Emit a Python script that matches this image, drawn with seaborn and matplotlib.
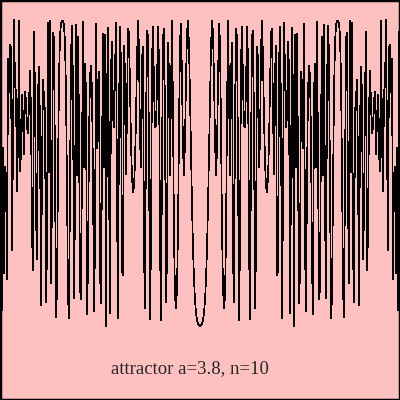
import numpy as np
import matplotlib
matplotlib.use("Agg")
import matplotlib.pyplot as plt
import seaborn as sns

# curve of the 10th iterate for a=3.8, one sample per pixel column (x = i/400),
# values in thousandths of the y range
y_left = [
    0, 921, 225, 631, 316, 583, 562, 301, 854, 769,
    888, 881, 374, 645, 950, 787, 769, 522, 651, 949,
    573, 618, 764, 701, 615, 771, 749, 683, 667, 739,
    822, 721, 411, 325, 920, 765, 461, 351, 765, 834,
    684, 237, 583, 800, 755, 720, 244, 369, 942, 570,
    948, 291, 504, 918, 902, 574, 207, 276, 574, 804,
    909, 942, 948, 948, 937, 892, 768, 531, 258, 205,
    525, 864, 935, 786, 255, 477, 937, 563, 908, 687,
    276, 252, 591, 946, 583, 841, 769, 215, 333, 657,
    808, 836, 773, 555, 221, 384, 940, 629, 790, 821,
    317, 242, 599, 915, 583, 914, 184, 754, 931, 555,
    218, 826, 896, 709, 682, 822, 942, 500, 204, 715,
    934, 834, 322, 312, 886, 817, 564, 719, 928, 919,
    781, 643, 555, 520, 533, 594, 706, 850, 947, 876,
    648, 583, 854, 883, 368, 229, 686, 924, 910, 617,
    202, 391, 852, 932, 781, 683, 685, 787, 934, 847,
    391, 199, 601, 905, 927, 714, 245, 354, 892, 816,
    562, 779, 947, 717, 409, 259, 230, 277, 428, 677,
    897, 940, 800, 624, 563, 648, 801, 920, 948, 883,
    760, 618, 486, 379, 301, 249, 217, 199, 190, 186,
]
y_right = [
    185, 186, 190, 199, 217, 249, 301, 379, 486, 618,
    760, 883, 948, 920, 801, 648, 563, 624, 800, 940,
    897, 677, 428, 277, 230, 259, 409, 717, 947, 779,
    562, 816, 892, 354, 245, 714, 927, 905, 601, 199,
    391, 847, 934, 787, 685, 683, 781, 932, 852, 391,
    202, 617, 910, 924, 686, 229, 368, 883, 854, 583,
    648, 876, 947, 850, 706, 594, 533, 520, 555, 643,
    781, 919, 928, 719, 564, 817, 886, 312, 322, 834,
    934, 715, 204, 500, 942, 822, 682, 709, 896, 826,
    218, 555, 931, 754, 184, 914, 583, 915, 599, 242,
    317, 821, 790, 629, 940, 384, 221, 555, 773, 836,
    808, 657, 333, 215, 769, 841, 583, 946, 591, 252,
    276, 687, 908, 563, 937, 477, 255, 786, 935, 864,
    525, 205, 258, 531, 768, 892, 937, 948, 948, 942,
    909, 804, 574, 276, 207, 574, 902, 918, 504, 291,
    948, 570, 942, 369, 244, 720, 755, 800, 583, 237,
    684, 834, 765, 351, 461, 765, 920, 325, 411, 721,
    822, 739, 667, 683, 749, 771, 615, 701, 764, 618,
    573, 949, 651, 522, 769, 787, 950, 645, 374, 881,
    888, 769, 854, 301, 562, 583, 316, 631, 225, 921,
    0,
]
title = "attractor a=3.8, n=10"

ys = np.array(y_left + y_right) / 1000.0
xs = np.arange(len(ys)) / (len(ys) - 1)

sns.set_style("white")
fig = plt.figure(figsize=(4, 4), dpi=100, facecolor="#ffc0c0")
ax = fig.add_axes([0, 0, 1, 1])
ax.set_facecolor("#ffc0c0")
sns.lineplot(x=xs, y=ys, color="black", linewidth=0.5, ax=ax)
ax.lines[0].set_antialiased(False)
ax.set_xlim(0, 1)
ax.set_ylim(0, 1)
ax.set_xticks([])
ax.set_yticks([])
for s in ax.spines.values():
    s.set_color("black")
    s.set_linewidth(2.5)

ax.text(0.474, 0.0675, title, transform=ax.transAxes,
        ha="center", va="baseline", fontsize=13.5, family="Liberation Serif")

fig.savefig("out.png", dpi=100, facecolor=fig.get_facecolor())
